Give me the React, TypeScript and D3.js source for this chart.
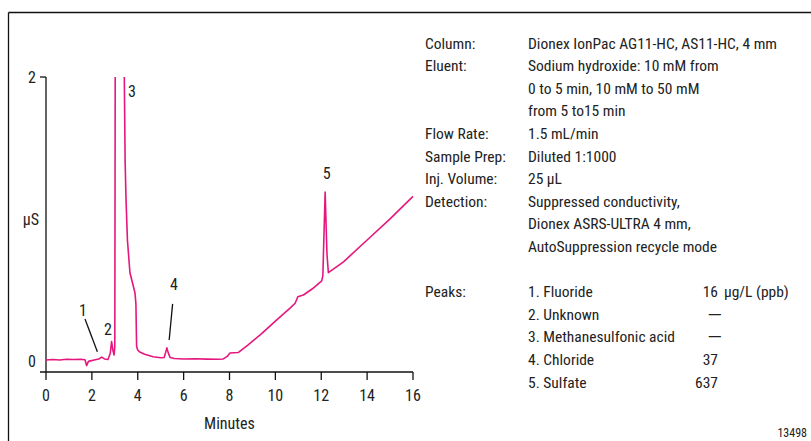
import React from "react";
import * as d3 from "d3";

// Chromatogram trace (minutes, µS)
const times = [
  0.0, 0.3, 0.6, 0.9, 1.2, 1.5, 1.7, 1.77, 1.85, 2.1, 2.3, 2.43, 2.55, 2.7,
  2.8, 2.86, 2.92, 2.97, 3.0, 3.02, 3.1, 3.3, 3.4, 3.42, 3.45, 3.49, 3.55,
  3.66, 3.8, 3.88, 3.92, 3.95, 4.0, 4.07, 4.3, 4.67, 5.0, 5.15, 5.22, 5.27,
  5.33, 5.41, 5.6, 6.0, 6.5, 7.0, 7.5, 7.73, 7.9, 8.02, 8.2, 8.39, 8.8, 9.4,
  10.06, 10.64, 10.86, 10.98, 11.22, 11.6, 12.02, 12.07, 12.17, 12.25, 12.31,
  12.97, 13.99, 15.0, 16.0,
];
const signal = [
  0.005, 0.008, 0.005, 0.01, 0.008, 0.01, 0.006, -0.035, -0.005, 0.005, 0.012,
  0.025, 0.012, 0.008, 0.05, 0.135, 0.07, 0.04, 0.1, 2.3, 3.5, 3.5, 2.3, 1.9,
  1.4, 1.13, 0.85, 0.62, 0.53, 0.477, 0.4, 0.1, 0.075, 0.063, 0.045, 0.028,
  0.02, 0.022, 0.06, 0.09, 0.055, 0.022, 0.015, 0.012, 0.013, 0.011, 0.01,
  0.012, 0.03, 0.054, 0.056, 0.058, 0.11, 0.19, 0.288, 0.37, 0.405, 0.451,
  0.463, 0.505, 0.563, 0.6, 1.188, 0.75, 0.62, 0.697, 0.849, 1.0, 1.158,
];

const xTicks = [0, 2, 4, 6, 8, 10, 12, 14, 16];
const yTicks = [0, 2];

// peak number annotations (data coordinates)
const peakLabels = ["1", "2", "3", "4", "5"];
const peakLabelT = [1.61, 2.7, 3.75, 5.58, 12.24];
const peakLabelV = [0.36, 0.225, 1.9, 0.54, 1.32];
// leader lines for peaks 1 and 4
const leaderT1 = [1.7, 5.52];
const leaderV1 = [0.294, 0.4];
const leaderT2 = [2.24, 5.37];
const leaderV2 = [0.063, 0.146];

const infoKeys = ["Column:", "Eluent:", "", "", "Flow Rate:", "Sample Prep:", "Inj. Volume:", "Detection:", "", ""];
const infoValues = [
  "Dionex IonPac AG11-HC, AS11-HC, 4 mm",
  "Sodium hydroxide: 10 mM from",
  "0 to 5 min, 10 mM to 50 mM",
  "from 5 to15 min",
  "1.5 mL/min",
  "Diluted 1:1000",
  "25 µL",
  "Suppressed conductivity,",
  "Dionex ASRS-ULTRA 4 mm,",
  "AutoSuppression recycle mode",
];
const peakNames = ["1. Fluoride", "2. Unknown", "3. Methanesulfonic acid", "4. Chloride", "5. Sulfate"];
const peakAmounts = ["16", "—", "—", "37", "637"];
const amountUnit = "µg/L (ppb)";
const figureId = "13498";

const FONT = "'Liberation Sans Narrow', 'Roboto Condensed', 'DejaVu Sans Condensed', 'Arial Narrow', sans-serif";
const TRACE = "#e5177e";

export default function App() {
  const W = 811;
  const H = 441;
  const x = d3.scaleLinear().domain([0, 16]).range([46, 413]);
  const y = d3.scaleLinear().domain([-0.08, 2]).range([372, 77]);
  const pts: [number, number][] = times.map((t, i) => [t, signal[i]]);
  const line = d3
    .line<[number, number]>()
    .x((d) => x(d[0]))
    .y((d) => y(d[1]));
  const axisY = y(-0.08);
  const top = y(2);
  const rowH = 22.6;
  const row0 = 43;
  const fs = 15.5;

  return (
    <svg
      width={W}
      height={H}
      style={{ position: "absolute", left: 0, top: 0, background: "#fff" }}
      fontFamily={FONT}
    >
      {/* frame */}
      <line x1={8.5} x2={W} y1={12.5} y2={12.5} stroke="#111" strokeWidth={1.3} />
      <line x1={8.5} x2={8.5} y1={12.5} y2={H} stroke="#111" strokeWidth={1.3} />

      <defs>
        <clipPath id="plotclip">
          <rect x={x(0)} y={top} width={x(16) - x(0) + 2} height={axisY - top} />
        </clipPath>
      </defs>

      {/* axes */}
      <line x1={x(0)} x2={x(0)} y1={top} y2={axisY} stroke="#111" strokeWidth={1.3} />
      <line x1={x(0) - 6} x2={x(0)} y1={top} y2={top} stroke="#111" strokeWidth={1.3} />
      <line x1={x(0) - 6} x2={x(16)} y1={axisY} y2={axisY} stroke="#111" strokeWidth={1.3} />
      {xTicks.map((t) => (
        <g key={t}>
          <line x1={x(t)} x2={x(t)} y1={axisY} y2={axisY + 8} stroke="#111" strokeWidth={1.3} />
          <text x={x(t)} y={axisY + 29} textAnchor="middle" fontSize={16} fill="#222">
            {t}
          </text>
        </g>
      ))}
      {yTicks.map((v) => (
        <text key={v} x={x(0) - 10} y={y(v) + 6} textAnchor="end" fontSize={16} fill="#222">
          {v}
        </text>
      ))}
      <text x={31} y={(top + y(0)) / 2 + 6} textAnchor="middle" fontSize={16} fill="#222">
        µS
      </text>
      <text x={(x(0) + x(16)) / 2} y={429} textAnchor="middle" fontSize={16} fill="#222">
        Minutes
      </text>

      {/* trace */}
      <path d={line(pts) || ""} fill="none" stroke={TRACE} strokeWidth={1.6} clipPath="url(#plotclip)" strokeLinejoin="round" />

      {/* peak labels */}
      {peakLabels.map((l, i) => (
        <text key={l} x={x(peakLabelT[i])} y={y(peakLabelV[i]) + 6} textAnchor="middle" fontSize={16} fill="#222">
          {l}
        </text>
      ))}
      {leaderT1.map((t, i) => (
        <line key={i} x1={x(t)} y1={y(leaderV1[i])} x2={x(leaderT2[i])} y2={y(leaderV2[i])} stroke="#111" strokeWidth={1.3} />
      ))}

      {/* conditions */}
      {infoValues.map((v, i) => (
        <g key={i}>
          {infoKeys[i] && (
            <text x={425} y={row0 + i * rowH + 5.5} fontSize={fs} fill="#222">
              {infoKeys[i]}
            </text>
          )}
          <text x={528} y={row0 + i * rowH + 5.5} fontSize={fs} fill="#222">
            {v}
          </text>
        </g>
      ))}
      {peakNames.map((n, i) => {
        const yy = row0 + (i + 11) * rowH + 5.5;
        const isDash = peakAmounts[i] === "—";
        return (
          <g key={n}>
            {i === 0 && (
              <text x={425} y={yy} fontSize={fs} fill="#222">
                Peaks:
              </text>
            )}
            <text x={528} y={yy} fontSize={fs} fill="#222">
              {n}
            </text>
            {isDash ? (
              <text x={707} y={yy} fontSize={fs} fill="#222" textLength={15} lengthAdjust="spacingAndGlyphs">
                {peakAmounts[i]}
              </text>
            ) : (
              <text x={718} y={yy} textAnchor="end" fontSize={fs} fill="#222">
                {peakAmounts[i]}
              </text>
            )}
            {i === 0 && (
              <text x={724} y={yy} fontSize={fs} fill="#222">
                {amountUnit}
              </text>
            )}
          </g>
        );
      })}
      <text x={807} y={437} textAnchor="end" fontSize={12} fill="#222">
        {figureId}
      </text>
    </svg>
  );
}
